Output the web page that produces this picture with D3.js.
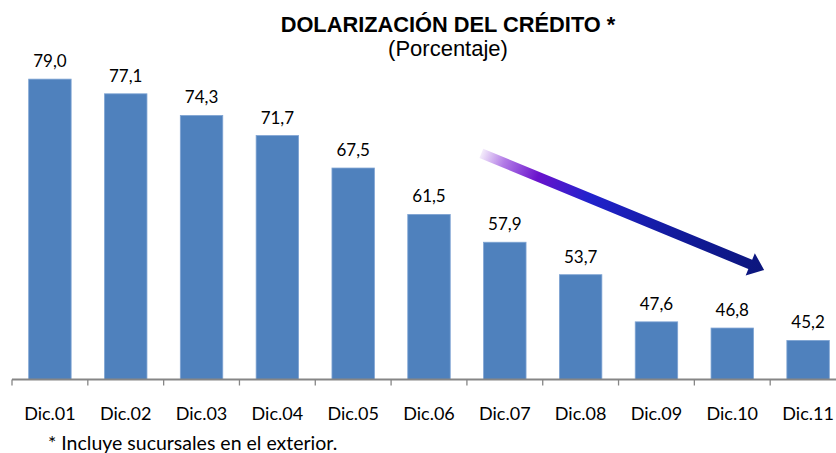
<!DOCTYPE html>
<html>
<head>
<meta charset="utf-8">
<script src="https://cdn.jsdelivr.net/npm/d3@7"></script>
<style>
  html, body { margin: 0; padding: 0; background: #fff; }
  svg { display: block; }
</style>
</head>
<body>
<svg id="chart" width="836" height="453"></svg>
<script>
// ---- data ----
const categories = ["Dic.01","Dic.02","Dic.03","Dic.04","Dic.05","Dic.06","Dic.07","Dic.08","Dic.09","Dic.10","Dic.11"];
const values = [79.0, 77.1, 74.3, 71.7, 67.5, 61.5, 57.9, 53.7, 47.6, 46.8, 45.2];
const valueLabels = ["79,0","77,1","74,3","71,7","67,5","61,5","57,9","53,7","47,6","46,8","45,2"];
const title = "DOLARIZACIÓN DEL CRÉDITO *";
const subtitle = "(Porcentaje)";
const footnote = "* Incluye sucursales en el exterior.";
// trend arrow annotation (category index position, value)
const arrowFrom = [5.69, 69.4];
const arrowTo = [9.42, 54.3];

// ---- layout ----
const svg = d3.select("#chart");
const axisY = 379.5;
const x = d3.scaleBand().domain(categories).range([12, 846]).paddingInner(0.44).paddingOuter(0.22);
const y = d3.scaleLinear().domain([40, 80]).range([380.6, 71.4]);
const step = x.step();
const xPos = i => x.range()[0] + step * (i + 0.5);

// title
svg.append("text").attr("x", 448).attr("y", 32).attr("text-anchor", "middle")
  .attr("font-family", "Liberation Sans, Arial, sans-serif").attr("font-weight", "bold")
  .attr("font-size", 21.8).attr("fill", "#000").text(title);
svg.append("text").attr("x", 448).attr("y", 56).attr("text-anchor", "middle")
  .attr("font-family", "Liberation Sans, Arial, sans-serif")
  .attr("font-size", 22).attr("fill", "#000").text(subtitle);

// bars
svg.append("g").selectAll("rect").data(values).join("rect")
  .attr("x", (d, i) => x(categories[i]))
  .attr("y", d => y(d))
  .attr("width", x.bandwidth())
  .attr("height", d => axisY - y(d))
  .attr("fill", "#4f81bd")
  .attr("stroke", "#7fa4d3").attr("stroke-width", 0.8);

// value labels
svg.append("g").selectAll("text").data(values).join("text")
  .attr("x", (d, i) => x(categories[i]) + x.bandwidth() / 2)
  .attr("y", d => y(d) - 12)
  .attr("text-anchor", "middle")
  .attr("font-family", "Lato, 'Open Sans', sans-serif")
  .attr("font-size", 17).attr("fill", "#000")
  .text((d, i) => valueLabels[i]);

// axis
const axis = d3.axisBottom(x).tickSize(0).tickPadding(0).tickFormat("");
const gAxis = svg.append("g").attr("transform", `translate(0,${axisY})`).call(axis);
gAxis.select(".domain").remove();
gAxis.append("line").attr("x1", x.range()[0]).attr("x2", x.range()[1])
  .attr("stroke", "#868686").attr("stroke-width", 2);
// tick marks at band boundaries
const bounds = d3.range(categories.length + 1).map(i => x.range()[0] + step * i);
gAxis.selectAll(".bt").data(bounds).join("line").attr("class", "bt")
  .attr("x1", d => d).attr("x2", d => d).attr("y1", 0).attr("y2", 6)
  .attr("stroke", "#868686").attr("stroke-width", 1.3);
gAxis.selectAll(".tick").remove();
gAxis.selectAll(".lbl").data(categories).join("text").attr("class", "lbl")
  .attr("x", d => x(d) + x.bandwidth() / 2)
  .attr("y", 40)
  .attr("text-anchor", "middle")
  .attr("font-family", "Lato, 'Open Sans', sans-serif")
  .attr("font-size", 18).attr("fill", "#000")
  .text(d => d);

// footnote
svg.append("text").attr("x", 48).attr("y", 450)
  .attr("font-family", "Lato, 'Open Sans', sans-serif")
  .attr("font-size", 19.5).attr("fill", "#000").text(footnote);

// trend arrow
const x0 = xPos(arrowFrom[0]), y0 = y(arrowFrom[1]);
const x1 = xPos(arrowTo[0]), y1 = y(arrowTo[1]);
const defs = svg.append("defs");
const grad = defs.append("linearGradient").attr("id", "arrowGrad")
  .attr("gradientUnits", "userSpaceOnUse")
  .attr("x1", x0).attr("y1", y0).attr("x2", x1).attr("y2", y1);
[[0, "#f4ecfb"], [0.08, "#b27be6"], [0.2, "#6a12cc"], [0.38, "#2222cc"], [0.7, "#111a9a"], [1, "#0c167c"]]
  .forEach(([o, c]) => grad.append("stop").attr("offset", o).attr("stop-color", c));
const dx = x1 - x0, dy = y1 - y0, len = Math.hypot(dx, dy);
const ux = dx / len, uy = dy / len, px = -uy, py = ux;
const sw = 5, hw = 12, hl = 15;
const bx = x1 - ux * hl, by = y1 - uy * hl;
const pts = [
  [x0 + px * sw, y0 + py * sw],
  [bx + px * sw, by + py * sw],
  [bx + px * hw, by + py * hw],
  [x1, y1],
  [bx - px * hw, by - py * hw],
  [bx - px * sw, by - py * sw],
  [x0 - px * sw, y0 - py * sw]
];
svg.append("path").attr("d", d3.line()(pts) + "Z").attr("fill", "url(#arrowGrad)");
</script>
</body>
</html>
